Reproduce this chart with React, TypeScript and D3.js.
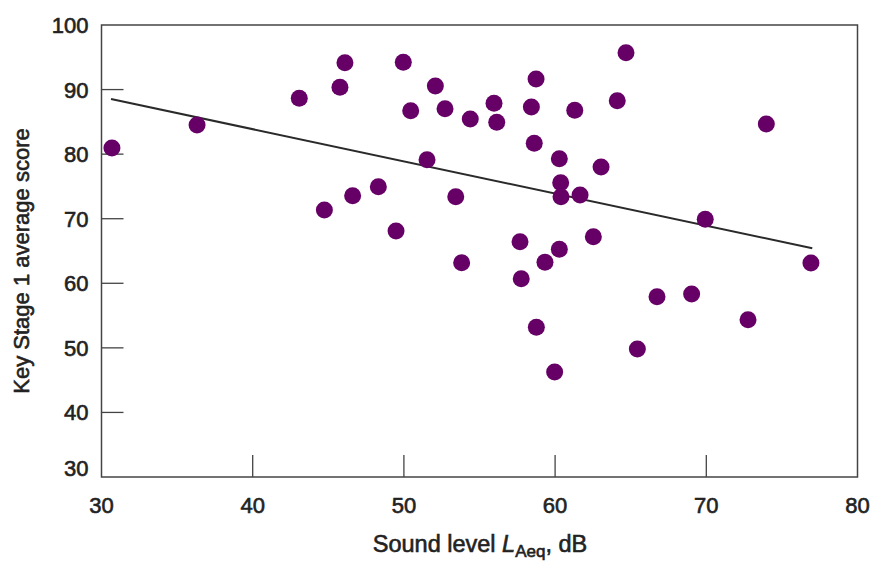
import React from "react";
import * as d3 from "d3";

const soundLevel = [30.69, 36.32, 43.08, 44.74, 45.77, 46.10, 46.61, 48.31, 49.48, 49.96, 50.45, 51.53, 52.08, 52.72, 53.43, 53.82, 54.39, 55.96, 56.14, 57.68, 57.76, 58.43, 58.74, 58.62, 58.76, 59.33, 59.97, 60.28, 60.37, 60.39, 60.28, 61.30, 61.65, 62.53, 63.04, 64.11, 64.69, 65.44, 66.74, 69.03, 69.93, 72.76, 73.97, 76.92];
const ks1Score = [80.95, 84.51, 88.65, 71.35, 90.35, 94.16, 73.56, 74.96, 68.1, 94.22, 86.73, 79.14, 90.55, 87.04, 73.41, 63.19, 85.44, 87.87, 84.93, 66.44, 60.71, 87.3, 91.64, 81.68, 53.18, 63.25, 46.26, 79.29, 75.58, 73.41, 65.26, 86.79, 73.67, 67.21, 78.01, 88.28, 95.71, 49.82, 57.92, 58.34, 69.91, 54.36, 84.67, 63.14];
const trendX = [30.63, 77.01];
const trendY = [88.54, 65.42];
const xTicks = [30, 40, 50, 60, 70, 80];
const yTicks = [30, 40, 50, 60, 70, 80, 90, 100];

const W = 874, H = 561;
const left = 101.5, right = 857.5, top = 25, bottom = 477;

export default function App() {
  const x = d3.scaleLinear().domain([30, 80]).range([left, right]);
  const y = d3.scaleLinear().domain([30, 100]).range([bottom, top]);
  const line = d3.line<number>().x((d, i) => x(trendX[i])).y((d, i) => y(trendY[i]));
  const font = "'Liberation Sans', Arial, sans-serif";
  const textColor = "#222";
  const heavy = { stroke: textColor, strokeWidth: 0.6 };
  return (
    <svg width={W} height={H} style={{ position: "absolute", left: 0, top: 0, background: "#fff" }} fontFamily={font}>
      {/* frame */}
      <rect x={left} y={top} width={right - left} height={bottom - top} fill="none" stroke="#444" strokeWidth={1.5} />
      {/* ticks */}
      {yTicks.filter(t => t !== 30 && t !== 100).map(t => (
        <line key={"yt" + t} x1={left} x2={left + 22} y1={y(t)} y2={y(t)} stroke="#444" strokeWidth={1.3} />
      ))}
      {xTicks.filter(t => t !== 30 && t !== 80).map(t => (
        <line key={"xt" + t} x1={x(t)} x2={x(t)} y1={bottom} y2={bottom - 22} stroke="#444" strokeWidth={1.3} />
      ))}
      {/* tick labels */}
      {yTicks.map(t => (
        <text key={"yl" + t} x={left - 13} y={y(t) + (t === 30 ? -1 : 8)} textAnchor="end" fontSize={22} fill={textColor} {...heavy}>{t}</text>
      ))}
      {xTicks.map(t => (
        <text key={"xl" + t} x={x(t)} y={513} textAnchor="middle" fontSize={22} fill={textColor} {...heavy}>{t}</text>
      ))}
      {/* axis titles */}
      <text x={480} y={551.5} textAnchor="middle" fontSize={23.5} fill={textColor} {...heavy}>
        Sound level <tspan fontStyle="italic">L</tspan><tspan fontSize={17} dy={5}>Aeq</tspan><tspan dy={-5}>, dB</tspan>
      </text>
      <text transform={`translate(29,261) rotate(-90)`} textAnchor="middle" fontSize={22} fill={textColor} {...heavy}>Key Stage 1 average score</text>
      {/* trend line */}
      <path d={line(trendX) || ""} fill="none" stroke="#2a2a2a" strokeWidth={2} />
      {/* points */}
      {soundLevel.map((v, i) => (
        <circle key={i} cx={x(v)} cy={y(ks1Score[i])} r={8.5} fill="#660066" />
      ))}
    </svg>
  );
}
